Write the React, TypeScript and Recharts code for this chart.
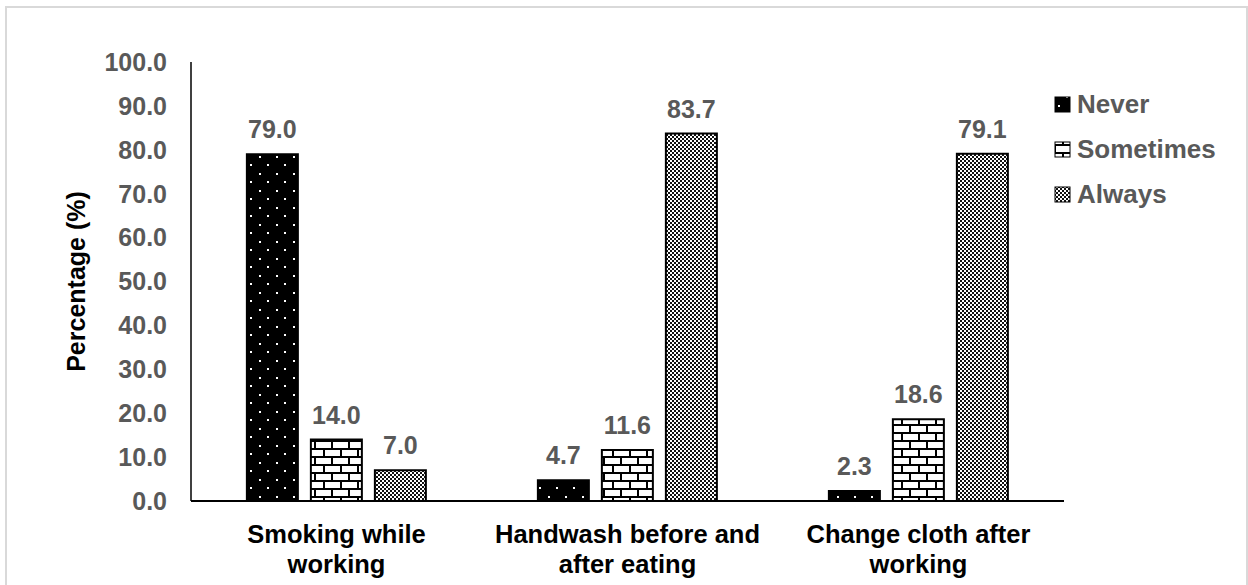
import React from 'react';
import { BarChart, Bar, XAxis, YAxis, LabelList } from 'recharts';

const categories = ['Smoking while\nworking', 'Handwash before and\nafter eating', 'Change cloth after\nworking'];
const neverValues = [79.0, 4.7, 2.3];
const sometimesValues = [14.0, 11.6, 18.6];
const alwaysValues = [7.0, 83.7, 79.1];
const seriesNames = ['Never', 'Sometimes', 'Always'];
const yTicks = [0, 10, 20, 30, 40, 50, 60, 70, 80, 90, 100];
const yTitle = 'Percentage (%)';

const data = categories.map((c, i) => ({
  category: c,
  never: neverValues[i],
  sometimes: sometimesValues[i],
  always: alwaysValues[i],
}));

const FONT = '"Liberation Sans", Arial, Helvetica, sans-serif';
const GRAY = '#595959';

const Patterns = ({ prefix }: { prefix: string }) => (
  <defs>
    <pattern id={`${prefix}dots`} width={17} height={17} patternUnits="userSpaceOnUse">
      <rect x={0} y={0} width={17} height={17} fill="#000" />
      <rect x={4} y={3} width={2} height={2} fill="#fff" />
      <rect x={12} y={11} width={2} height={2} fill="#fff" />
    </pattern>
    <pattern id={`${prefix}brick`} width={17} height={16} patternUnits="userSpaceOnUse">
      <rect x={0} y={0} width={17} height={16} fill="#fff" />
      <rect x={0} y={0} width={17} height={2} fill="#000" />
      <rect x={0} y={8} width={17} height={2} fill="#000" />
      <rect x={0} y={0} width={2} height={8} fill="#000" />
      <rect x={8} y={8} width={2} height={8} fill="#000" />
    </pattern>
    <pattern id={`${prefix}check`} width={4} height={4} patternUnits="userSpaceOnUse">
      <rect x={0} y={0} width={4} height={4} fill="#fff" />
      <rect x={0} y={0} width={2} height={2} fill="#111" />
      <rect x={2} y={2} width={2} height={2} fill="#111" />
    </pattern>
  </defs>
);

const CatTick = (props: any) => {
  const { x, y, payload } = props;
  const lines = String(payload.value).split('\n');
  return (
    <text x={x} y={y} textAnchor="middle" fill="#000" fontSize={25.5} fontWeight="bold" fontFamily={FONT}>
      {lines.map((l, i) => (
        <tspan key={i} x={x} y={y + 42 + i * 30}>
          {l}
        </tspan>
      ))}
    </text>
  );
};

const labelStyle = { fill: GRAY, fontSize: 25, fontWeight: 'bold' as const, fontFamily: FONT };
const fmt = (v: any) => Number(v).toFixed(1);

const legendFills = ['lgdots', 'lgbrick', 'lgcheck'];
const legendBaselines = [113, 158, 203];

export default function App() {
  return (
    <div style={{ position: 'absolute', left: 0, top: 0, width: 1248, height: 585, background: '#fff' }}>
      <BarChart
        width={1248}
        height={585}
        data={data}
        margin={{ top: 62, right: 184, bottom: 0, left: 0 }}
        barCategoryGap="19.2%"
        barGap={13}
      >
        <Patterns prefix="" />
        <XAxis
          dataKey="category"
          height={84}
          tickLine={false}
          tickSize={0}
          tickMargin={0}
          axisLine={{ stroke: '#000', strokeWidth: 2 }}
          tick={<CatTick />}
          interval={0}
        />
        <YAxis
          width={191}
          domain={[0, 100]}
          ticks={yTicks}
          interval={0}
          tickFormatter={fmt}
          tickLine={false}
          tickSize={0}
          tickMargin={24}
          axisLine={{ stroke: '#000', strokeWidth: 1.5 }}
          tick={{ fill: GRAY, fontSize: 25, fontWeight: 'bold', fontFamily: FONT }}
        />
        <Bar dataKey="never" name={seriesNames[0]} fill="url(#dots)" stroke="#000" strokeWidth={2} isAnimationActive={false}>
          <LabelList dataKey="never" position="top" offset={16} formatter={fmt} style={labelStyle} />
        </Bar>
        <Bar dataKey="sometimes" name={seriesNames[1]} fill="url(#brick)" stroke="#000" strokeWidth={2} isAnimationActive={false}>
          <LabelList dataKey="sometimes" position="top" offset={16} formatter={fmt} style={labelStyle} />
        </Bar>
        <Bar dataKey="always" name={seriesNames[2]} fill="url(#check)" stroke="#000" strokeWidth={2} isAnimationActive={false}>
          <LabelList dataKey="always" position="top" offset={16} formatter={fmt} style={labelStyle} />
        </Bar>
      </BarChart>
      <svg
        width={1248}
        height={585}
        style={{ position: 'absolute', left: 0, top: 0, pointerEvents: 'none' }}
      >
        <Patterns prefix="lg" />
        <rect x={6} y={7} width={1241} height={620} fill="none" stroke="#d9d9d9" strokeWidth={2} />
        <text
          transform="translate(85,281.5) rotate(-90)"
          textAnchor="middle"
          fill="#000"
          fontSize={25}
          fontWeight="bold"
          fontFamily={FONT}
        >
          {yTitle}
        </text>
        {seriesNames.map((n, i) => (
          <g key={n}>
            <rect
              x={1055}
              y={legendBaselines[i] - 16}
              width={15}
              height={15}
              fill={`url(#${legendFills[i]})`}
              stroke="#000"
              strokeWidth={1}
            />
            <text x={1077} y={legendBaselines[i]} fill={GRAY} fontSize={26} fontWeight="bold" fontFamily={FONT}>
              {n}
            </text>
          </g>
        ))}
      </svg>
    </div>
  );
}
